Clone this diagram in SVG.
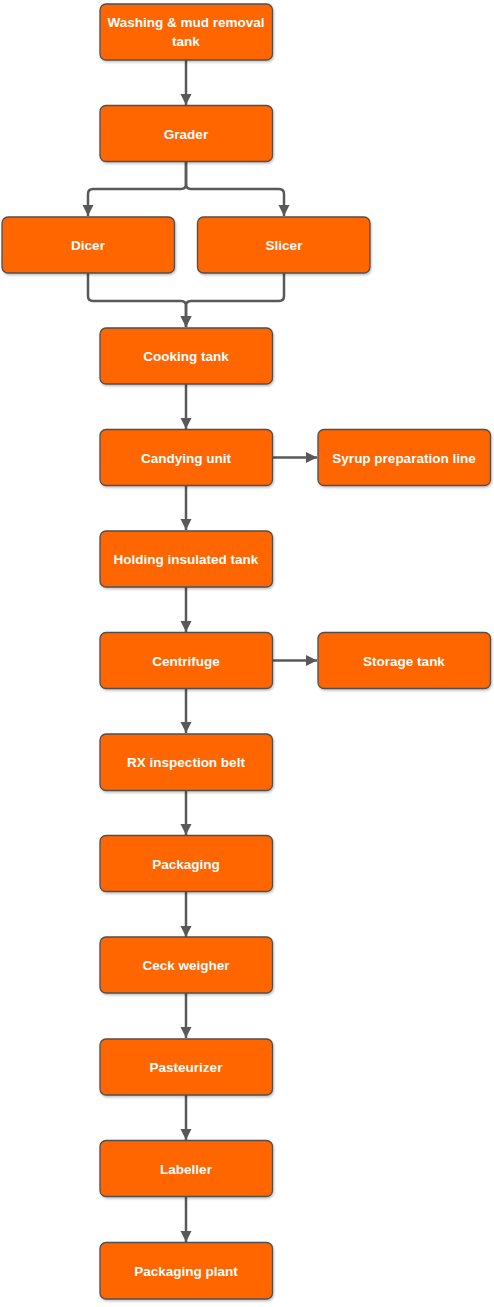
<svg xmlns="http://www.w3.org/2000/svg" width="494" height="1307" viewBox="0 0 494 1307">
<style>
.box{fill:#FF6600;stroke:#505050;stroke-width:1.3;filter:url(#sh)}
.lbl{fill:#FFFFFF;font-family:"Liberation Sans",Arial,sans-serif;font-weight:bold;font-size:13.5px;text-anchor:middle}
.con{fill:none;stroke:#595959;stroke-width:2.5;marker-end:url(#ah)}
</style>
<defs>
<marker id="ah" viewBox="0 0 10 10" refX="10" refY="5" markerWidth="4.6" markerHeight="4.6" orient="auto" markerUnits="strokeWidth">
<path d="M0,0 L10,5 L0,10 Z" fill="#595959"/>
</marker>
<filter id="sh" x="-10%" y="-10%" width="130%" height="140%">
<feDropShadow dx="1" dy="1.5" stdDeviation="1.2" flood-color="#000" flood-opacity="0.25"/>
</filter>
</defs>
<rect width="494" height="1307" fill="#FFFFFF"/>
<g id="connectors">
<path class="con" d="M186,60 V105"/>
<path class="con" d="M186,162 V184 Q186,189 181,189 H93 Q88,189 88,194 V216"/>
<path class="con" d="M186,162 V184 Q186,189 191,189 H279 Q284,189 284,194 V216"/>
<path class="con" d="M88,273 V296 Q88,301 93,301 H181 Q186,301 186,306 V327"/>
<path class="con" d="M284,273 V296 Q284,301 279,301 H191 Q186,301 186,306 V327"/>
<path class="con" d="M186,384 V429"/>
<path class="con" d="M273,457.5 H317"/>
<path class="con" d="M186,486 V530"/>
<path class="con" d="M186,587 V632"/>
<path class="con" d="M273,660.5 H317"/>
<path class="con" d="M186,688.5 V733"/>
<path class="con" d="M186,791 V835"/>
<path class="con" d="M186,892 V937"/>
<path class="con" d="M186,993 V1038"/>
<path class="con" d="M186,1095 V1140"/>
<path class="con" d="M186,1197 V1242"/>
</g>
<g id="n-washing"><rect class="box" x="100" y="4" width="172.5" height="56" rx="6"/><text class="lbl" x="186" y="27">Washing &amp; mud removal</text><text class="lbl" x="186" y="46">tank</text></g>
<g id="n-grader"><rect class="box" x="100" y="105.5" width="172.5" height="56" rx="6"/><text class="lbl" x="186" y="138.5">Grader</text></g>
<g id="n-dicer"><rect class="box" x="2" y="217" width="172.5" height="56" rx="6"/><text class="lbl" x="88" y="250">Dicer</text></g>
<g id="n-slicer"><rect class="box" x="197.5" y="217" width="172.5" height="56" rx="6"/><text class="lbl" x="284" y="250">Slicer</text></g>
<g id="n-cooking"><rect class="box" x="100" y="328" width="172.5" height="56" rx="6"/><text class="lbl" x="186" y="361">Cooking tank</text></g>
<g id="n-candying"><rect class="box" x="100" y="429.5" width="172.5" height="56" rx="6"/><text class="lbl" x="186" y="462.5">Candying unit</text></g>
<g id="n-syrup"><rect class="box" x="318" y="429.5" width="172.5" height="56" rx="6"/><text class="lbl" x="404" y="462.5">Syrup preparation line</text></g>
<g id="n-holding"><rect class="box" x="100" y="531" width="172.5" height="56" rx="6"/><text class="lbl" x="186" y="564">Holding insulated tank</text></g>
<g id="n-centrifuge"><rect class="box" x="100" y="632.5" width="172.5" height="56" rx="6"/><text class="lbl" x="186" y="665.5">Centrifuge</text></g>
<g id="n-storage"><rect class="box" x="318" y="632.5" width="172.5" height="56" rx="6"/><text class="lbl" x="404" y="665.5">Storage tank</text></g>
<g id="n-rx"><rect class="box" x="100" y="734" width="172.5" height="56.5" rx="6"/><text class="lbl" x="186" y="767">RX inspection belt</text></g>
<g id="n-packaging"><rect class="box" x="100" y="835.5" width="172.5" height="56" rx="6"/><text class="lbl" x="186" y="868.5">Packaging</text></g>
<g id="n-ceck"><rect class="box" x="100" y="937" width="172.5" height="56" rx="6"/><text class="lbl" x="186" y="970">Ceck weigher</text></g>
<g id="n-pasteurizer"><rect class="box" x="100" y="1039" width="172.5" height="56" rx="6"/><text class="lbl" x="186" y="1072">Pasteurizer</text></g>
<g id="n-labeller"><rect class="box" x="100" y="1140.5" width="172.5" height="56" rx="6"/><text class="lbl" x="186" y="1173.5">Labeller</text></g>
<g id="n-plant"><rect class="box" x="100" y="1242.5" width="172.5" height="56.5" rx="6"/><text class="lbl" x="186" y="1276">Packaging plant</text></g>
</svg>
